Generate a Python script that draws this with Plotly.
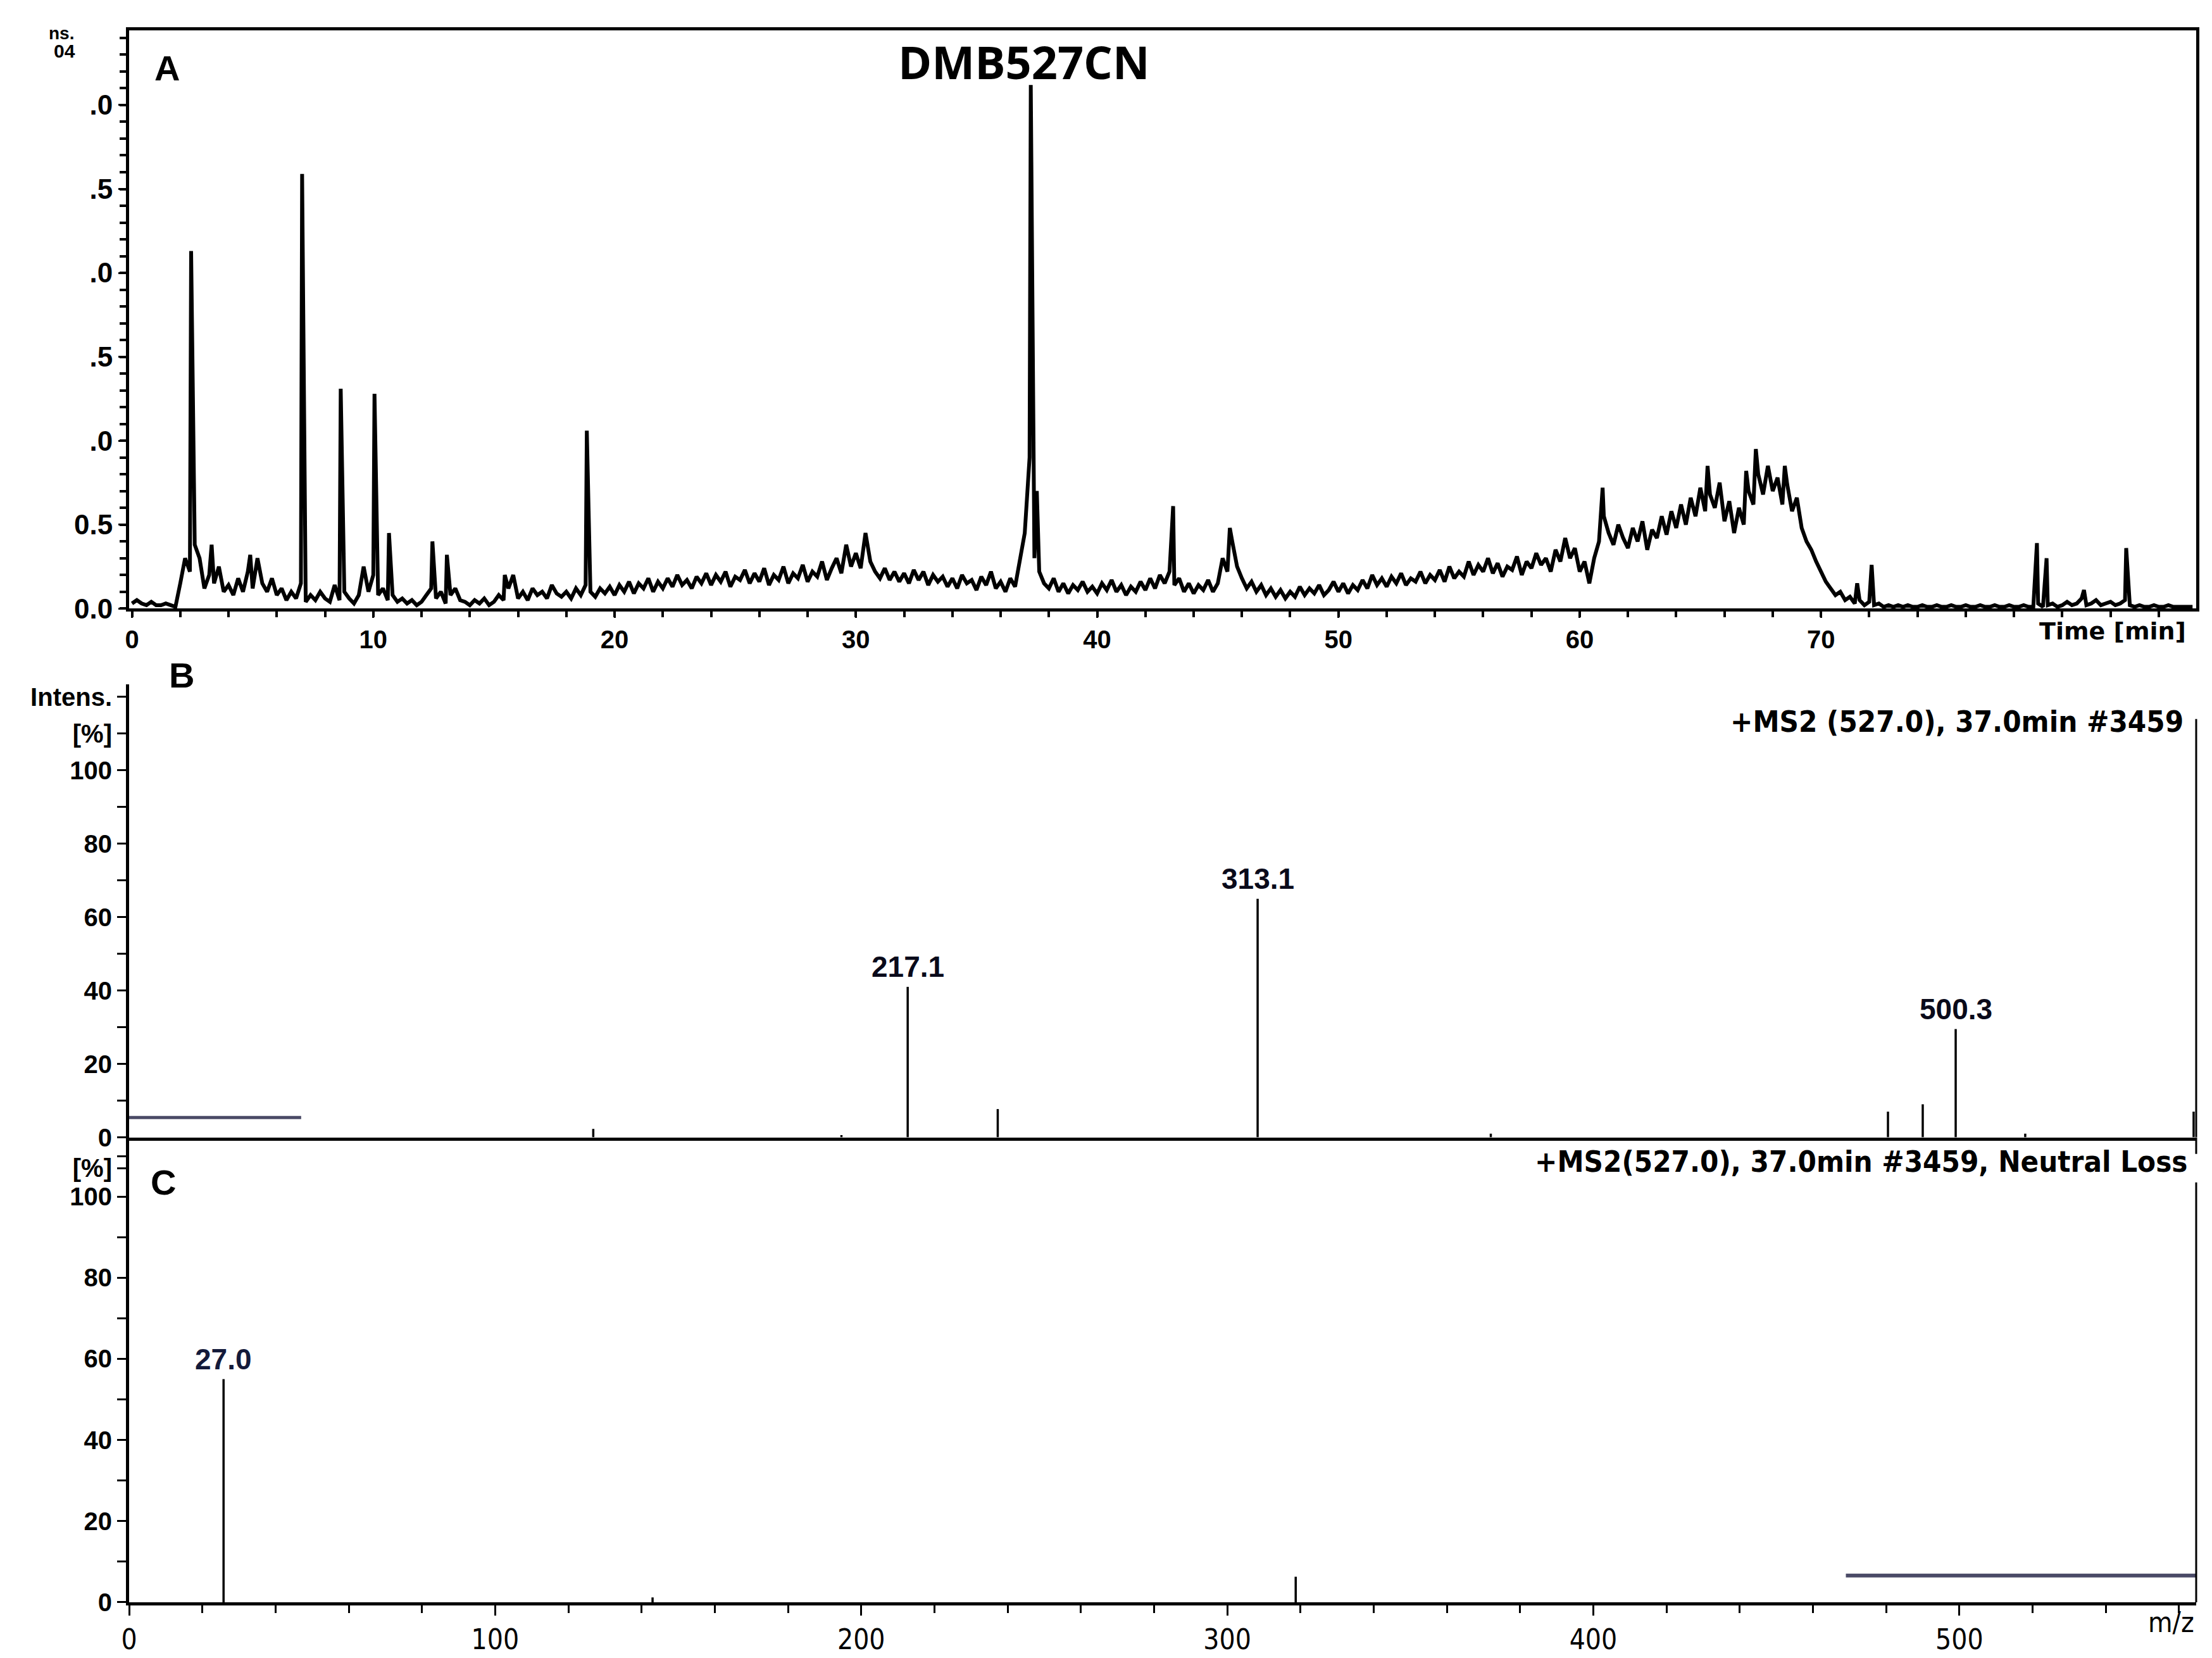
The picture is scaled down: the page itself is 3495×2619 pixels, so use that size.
import plotly.graph_objects as go

# ---------------- Panel A : chromatogram (intensity x10^4 vs time) ----------------
SCAN_START = 0.0   # min
SCAN_STEP = 0.2    # min between scans
BASE_INTENS = [
    0.03, 0.05, 0.03, 0.02, 0.04, 0.02, 0.02, 0.03, 0.02, 0.01,   # 0-1.8
    0.15, 0.30, 0.22, 0.38, 0.30, 0.12, 0.20, 0.15, 0.25, 0.10,   # 2-3.8
    0.14, 0.08, 0.18, 0.10, 0.22, 0.12, 0.30, 0.15, 0.10, 0.18,   # 4-5.8
    0.08, 0.12, 0.05, 0.10, 0.06, 0.15, 0.04, 0.08, 0.05, 0.10,   # 6-7.8
    0.06, 0.04, 0.14, 0.05, 0.10, 0.06, 0.03, 0.08, 0.25, 0.10,   # 8-9.8
    0.20, 0.08, 0.12, 0.05, 0.08, 0.04, 0.06, 0.03, 0.05, 0.02,   # 10-11.8
    0.04, 0.08, 0.12, 0.06, 0.10, 0.03, 0.08, 0.12, 0.05, 0.04,   # 12-13.8
    0.02, 0.05, 0.03, 0.06, 0.02, 0.04, 0.08, 0.05, 0.12, 0.20,   # 14-15.8
    0.06, 0.10, 0.05, 0.12, 0.08, 0.10, 0.06, 0.14, 0.09, 0.07,   # 16-17.8
    0.10, 0.06, 0.12, 0.08, 0.14, 0.10, 0.07, 0.12, 0.09, 0.13,   # 18-19.8
    0.08, 0.14, 0.10, 0.16, 0.09, 0.15, 0.12, 0.18, 0.10, 0.16,   # 20-21.8
    0.12, 0.18, 0.13, 0.20, 0.14, 0.17, 0.12, 0.19, 0.15, 0.21,   # 22-23.8
    0.14, 0.20, 0.16, 0.22, 0.13, 0.19, 0.17, 0.23, 0.15, 0.21,   # 24-25.8
    0.16, 0.24, 0.14, 0.20, 0.17, 0.25, 0.15, 0.21, 0.18, 0.26,   # 26-27.8
    0.16, 0.22, 0.19, 0.28, 0.17, 0.24, 0.30, 0.21, 0.38, 0.25,   # 28-29.8
    0.33, 0.24, 0.45, 0.28, 0.22, 0.18, 0.24, 0.17, 0.22, 0.16,   # 30-31.8
    0.21, 0.15, 0.23, 0.17, 0.22, 0.14, 0.20, 0.16, 0.19, 0.13,   # 32-33.8
    0.18, 0.12, 0.20, 0.15, 0.17, 0.11, 0.19, 0.14, 0.22, 0.12,   # 34-35.8
    0.16, 0.10, 0.18, 0.13, 0.28, 0.45, 0.90, 0.30, 0.22, 0.15,   # 36-37.8
    0.12, 0.18, 0.10, 0.15, 0.09, 0.14, 0.11, 0.16, 0.10, 0.13,   # 38-39.8
    0.09, 0.15, 0.11, 0.17, 0.10, 0.14, 0.08, 0.13, 0.10, 0.16,   # 40-41.8
    0.11, 0.18, 0.12, 0.20, 0.15, 0.22, 0.14, 0.18, 0.10, 0.15,   # 42-43.8
    0.09, 0.14, 0.11, 0.17, 0.10, 0.15, 0.30, 0.22, 0.40, 0.25,   # 44-45.8
    0.18, 0.12, 0.16, 0.10, 0.14, 0.08, 0.12, 0.07, 0.11, 0.06,   # 46-47.8
    0.10, 0.07, 0.13, 0.08, 0.12, 0.09, 0.14, 0.08, 0.11, 0.16,   # 48-49.8
    0.10, 0.15, 0.09, 0.14, 0.11, 0.17, 0.12, 0.20, 0.14, 0.18,   # 50-51.8
    0.13, 0.19, 0.15, 0.21, 0.14, 0.18, 0.16, 0.22, 0.15, 0.20,   # 52-53.8
    0.17, 0.23, 0.16, 0.25, 0.18, 0.22, 0.19, 0.28, 0.20, 0.26,   # 54-55.8
    0.22, 0.30, 0.21, 0.27, 0.19, 0.25, 0.23, 0.31, 0.20, 0.28,   # 56-57.8
    0.24, 0.33, 0.26, 0.30, 0.22, 0.35, 0.28, 0.42, 0.30, 0.36,   # 58-59.8
    0.22, 0.28, 0.15, 0.30, 0.40, 0.55, 0.45, 0.38, 0.50, 0.42,   # 60-61.8
    0.36, 0.48, 0.40, 0.52, 0.35, 0.47, 0.42, 0.55, 0.44, 0.58,   # 62-63.8
    0.48, 0.62, 0.50, 0.66, 0.55, 0.72, 0.58, 0.68, 0.60, 0.75,   # 64-65.8
    0.52, 0.64, 0.45, 0.60, 0.50, 0.70, 0.62, 0.80, 0.68, 0.85,   # 66-67.8
    0.70, 0.78, 0.62, 0.74, 0.58, 0.66, 0.48, 0.40, 0.35, 0.28,   # 68-69.8
    0.22, 0.16, 0.12, 0.08, 0.10, 0.05, 0.07, 0.03, 0.05, 0.02,   # 70-71.8
    0.04, 0.02, 0.03, 0.01, 0.02, 0.01, 0.02, 0.01, 0.02, 0.01,   # 72-73.8
    0.01, 0.02, 0.01, 0.01, 0.02, 0.01, 0.01, 0.02, 0.01, 0.01,   # 74-75.8
    0.02, 0.01, 0.01, 0.02, 0.01, 0.01, 0.02, 0.01, 0.01, 0.02,   # 76-77.8
    0.01, 0.01, 0.02, 0.01, 0.01, 0.03, 0.01, 0.02, 0.03, 0.01,   # 78-79.8
    0.02, 0.04, 0.02, 0.03, 0.06, 0.02, 0.03, 0.05, 0.02, 0.03,   # 80-81.8
    0.04, 0.02, 0.03, 0.05, 0.02, 0.01, 0.02, 0.01, 0.01, 0.02,   # 82-83.8
    0.01, 0.01, 0.02, 0.01, 0.01, 0.01, 0.01, 0.01,               # 84-85.4
]
PEAK_TIMES = [2.45, 3.3, 4.9, 7.05, 8.65, 10.05, 10.65, 12.45, 13.05, 15.45,
              18.85, 37.25, 37.5, 43.15, 45.5, 60.95, 65.3, 66.9, 67.3, 68.5,
              71.5, 72.1, 78.95, 79.35, 80.9, 82.65]
PEAK_INTENS = [2.13, 0.38, 0.32, 2.59, 1.31, 1.28, 0.45, 0.40, 0.32, 0.20,
               1.06, 3.12, 0.70, 0.61, 0.48, 0.72, 0.85, 0.82, 0.95, 0.85,
               0.15, 0.26, 0.39, 0.30, 0.11, 0.36]

A_XTICK_VALS = [0, 10, 20, 30, 40, 50, 60, 70]
A_XTICK_TEXT = ["0", "10", "20", "30", "40", "50", "60", "70"]
A_YTICK_VALS = [0.0, 0.5, 1.0, 1.5, 2.0, 2.5, 3.0]
A_YTICK_TEXT = ["0.0", "0.5", ".0", ".5", ".0", ".5", ".0"]

# ---------------- Panel B : MS2 spectrum ----------------
B_MZ = [126.8, 194.6, 212.7, 237.3, 308.3, 372.0, 480.5, 490.0, 499.0, 518.0, 564.0]
B_INT = [2.3, 0.6, 41.0, 7.7, 65.0, 1.0, 7.0, 9.0, 29.5, 1.0, 7.0]
B_LABEL_MZ = [212.7, 308.3, 499.0]
B_LABEL_INT = [41.0, 65.0, 29.5]
B_LABELS = ["217.1", "313.1", "500.3"]
B_YTICK_VALS = [0, 20, 40, 60, 80, 100, 110, 120]
B_YTICK_TEXT = ["0", "20", "40", "60", "80", "100", "[%]", "Intens."]
B_BAR_MZ = [0, 47]
B_BAR_INT = [5.4, 5.4]

# ---------------- Panel C : neutral loss spectrum ----------------
C_MZ = [25.8, 143.0, 318.7]
C_INT = [55.0, 1.2, 6.3]
C_LABEL_MZ = [25.8]
C_LABEL_INT = [55.0]
C_LABELS = ["27.0"]
C_YTICK_VALS = [0, 20, 40, 60, 80, 100, 107]
C_YTICK_TEXT = ["0", "20", "40", "60", "80", "100", "[%]"]
C_BAR_MZ = [469, 564.7]
C_BAR_INT = [6.6, 6.6]
MZ_TICK_VALS = [0, 100, 200, 300, 400, 500]
MZ_TICK_TEXT = ["0", "100", "200", "300", "400", "500"]

# ---------------- build ----------------
scan_times = [SCAN_START + i * SCAN_STEP for i in range(len(BASE_INTENS))]
pts = sorted(list(zip(scan_times, BASE_INTENS)) + list(zip(PEAK_TIMES, PEAK_INTENS)))
A_T = [p[0] for p in pts]
A_I = [p[1] for p in pts]


def stems(mz, inten):
    xs, ys = [], []
    for m, h in zip(mz, inten):
        xs += [m, m, None]
        ys += [0, h, None]
    return xs, ys


W, H = 3495, 2619
ML, MR, MT, MB = 196, 33, 40, 94
PW, PH = W - ML - MR, H - MT - MB


def px(x):
    return (x - ML) / PW


def py(y):
    return (H - MB - y) / PH


BOLD = "Liberation Sans, Arial, sans-serif"
NARROW = "DejaVu Sans Condensed, Roboto, Liberation Sans, sans-serif"

fig = go.Figure()
fig.add_trace(go.Scatter(x=A_T, y=A_I, mode="lines", line=dict(color="black", width=6),
                         xaxis="x", yaxis="y", hoverinfo="skip"))
bx, by = stems(B_MZ, B_INT)
fig.add_trace(go.Scatter(x=bx, y=by, mode="lines", line=dict(color="black", width=3.5),
                         xaxis="x2", yaxis="y2"))
fig.add_trace(go.Scatter(x=B_BAR_MZ, y=B_BAR_INT, mode="lines", line=dict(color="#4a4a66", width=5),
                         xaxis="x2", yaxis="y2"))
cx, cy = stems(C_MZ, C_INT)
fig.add_trace(go.Scatter(x=cx, y=cy, mode="lines", line=dict(color="black", width=3.5),
                         xaxis="x3", yaxis="y3"))
fig.add_trace(go.Scatter(x=C_BAR_MZ, y=C_BAR_INT, mode="lines", line=dict(color="#4a4a66", width=6),
                         xaxis="x3", yaxis="y3"))

tickfont_bold = dict(family=BOLD, size=40, color="black", weight="bold")
A_TOP, B_TOP, B_BOT = 1.0, 0.5839, 0.2958

axis_common = dict(showgrid=False, zeroline=False, showline=True, linecolor="black",
                   linewidth=5, ticks="outside", tickcolor="black", tickwidth=3)

fig.update_layout(
    width=W, height=H, margin=dict(l=ML, r=MR, t=MT, b=MB),
    paper_bgcolor="white", plot_bgcolor="white", showlegend=False,
    xaxis=dict(**axis_common, domain=[0, 1], anchor="y", range=[-0.12, 85.55], mirror=True,
               tickvals=A_XTICK_VALS, ticktext=A_XTICK_TEXT, ticklen=10,
               minor=dict(tickmode="linear", tick0=0, dtick=2, ticks="outside", ticklen=9,
                          tickwidth=4, tickcolor="black"),
               tickfont=dict(family=BOLD, size=40, color="black", weight="bold")),
    yaxis=dict(**axis_common, domain=[0.6322, A_TOP], anchor="x", range=[0, 3.445], mirror=True,
               tickvals=A_YTICK_VALS, ticktext=A_YTICK_TEXT, ticklen=12,
               minor=dict(tickmode="linear", tick0=0, dtick=0.1, ticks="outside", ticklen=10,
                          tickwidth=4, tickcolor="black"),
               tickfont=dict(family=BOLD, size=44, color="black", weight="bold")),
    xaxis2=dict(showgrid=False, zeroline=False, showline=True, linecolor="black", linewidth=5,
                domain=[0, 1], anchor="y2", range=[0, 564.7], showticklabels=False, ticks="",
                matches="x3"),
    yaxis2=dict(**axis_common, domain=[B_BOT, B_TOP], anchor="x2", range=[0, 123.4],
                tickvals=B_YTICK_VALS, ticktext=B_YTICK_TEXT, ticklen=14,
                minor=dict(tickmode="linear", tick0=0, dtick=10, ticks="outside", ticklen=14,
                           tickwidth=3, tickcolor="black"),
                tickfont=tickfont_bold),
    xaxis3=dict(**axis_common, domain=[0, 1], anchor="y3", range=[0, 564.7],
                tickvals=MZ_TICK_VALS, ticktext=MZ_TICK_TEXT, ticklen=16,
                minor=dict(tickmode="linear", tick0=0, dtick=20, ticks="outside", ticklen=12,
                           tickwidth=3, tickcolor="black"),
                tickfont=dict(family=NARROW, size=44, color="black")),
    yaxis3=dict(**axis_common, domain=[0, B_BOT], anchor="x3", range=[0, 114.6],
                tickvals=C_YTICK_VALS, ticktext=C_YTICK_TEXT, ticklen=14,
                minor=dict(tickmode="linear", tick0=0, dtick=10, ticks="outside", ticklen=14,
                           tickwidth=3, tickcolor="black"),
                tickfont=tickfont_bold),
)

# right edge lines of spectra
fig.add_shape(type="line", xref="x2 domain", yref="y2", x0=1, x1=1, y0=0, y1=114,
              line=dict(color="black", width=3))
fig.add_shape(type="line", xref="x3 domain", yref="y3", x0=1, x1=1, y0=0, y1=103.5,
              line=dict(color="black", width=3))
fig.add_shape(type="line", xref="x3 domain", yref="y3", x0=1, x1=1, y0=110.5, y1=114.6,
              line=dict(color="black", width=3))

ann = []
# peak labels
for m, h, t in zip(B_LABEL_MZ, B_LABEL_INT, B_LABELS):
    ann.append(dict(x=m, y=h, xref="x2", yref="y2", text=t, showarrow=False, yanchor="bottom",
                    yshift=4, font=dict(family=BOLD, size=46, color="#0a0a1a", weight="bold")))
for m, h, t in zip(C_LABEL_MZ, C_LABEL_INT, C_LABELS):
    ann.append(dict(x=m, y=h, xref="x3", yref="y3", text=t, showarrow=False, yanchor="bottom",
                    yshift=4, font=dict(family=BOLD, size=46, color="#141a3a", weight="bold")))
# headers
ann.append(dict(x=px(3444), y=py(1132), xref="paper", yref="paper", xanchor="right", yanchor="middle",
                text="+MS2 (527.0), 37.0min #3459", showarrow=False,
                font=dict(family=NARROW, size=47, color="black", weight="bold")))
ann.append(dict(x=px(3450), y=py(1828), xref="paper", yref="paper", xanchor="right", yanchor="middle",
                text="+MS2(527.0), 37.0min #3459, Neutral Loss", showarrow=False,
                font=dict(family=NARROW, size=47, color="black", weight="bold")))
# panel letters and title
for txt, xx, yy in [("A", 256, 100), ("B", 279, 1059), ("C", 250, 1861)]:
    ann.append(dict(x=px(xx), y=py(yy), xref="paper", yref="paper", text=txt, showarrow=False,
                    xanchor="center", yanchor="middle",
                    font=dict(family=BOLD, size=56, color="black", weight="bold")))
ann.append(dict(x=px(1609), y=py(89), xref="paper", yref="paper", text="DMB527CN", showarrow=False,
                xanchor="center", yanchor="middle",
                font=dict(family="Open Sans", size=72, color="black", weight="bold")))
ann.append(dict(x=px(89), y=py(45), xref="paper", yref="paper", text="ns.", showarrow=False,
                xanchor="center", yanchor="middle",
                font=dict(family=BOLD, size=28, color="black", weight="bold")))
ann.append(dict(x=px(94), y=py(73), xref="paper", yref="paper", text="04", showarrow=False,
                xanchor="center", yanchor="middle",
                font=dict(family=BOLD, size=30, color="black", weight="bold")))
# axis titles placed like the instrument software
ann.append(dict(x=px(3330), y=py(990), xref="paper", yref="paper", text="Time [min]", showarrow=False,
                xanchor="center", yanchor="middle",
                font=dict(family="DejaVu Sans", size=38, color="black", weight="bold")))
ann.append(dict(x=px(3422), y=py(2557), xref="paper", yref="paper", text="m/z", showarrow=False,
                xanchor="center", yanchor="middle",
                font=dict(family=NARROW, size=44, color="black")))
fig.update_layout(annotations=ann)

fig.write_html("out.html")
